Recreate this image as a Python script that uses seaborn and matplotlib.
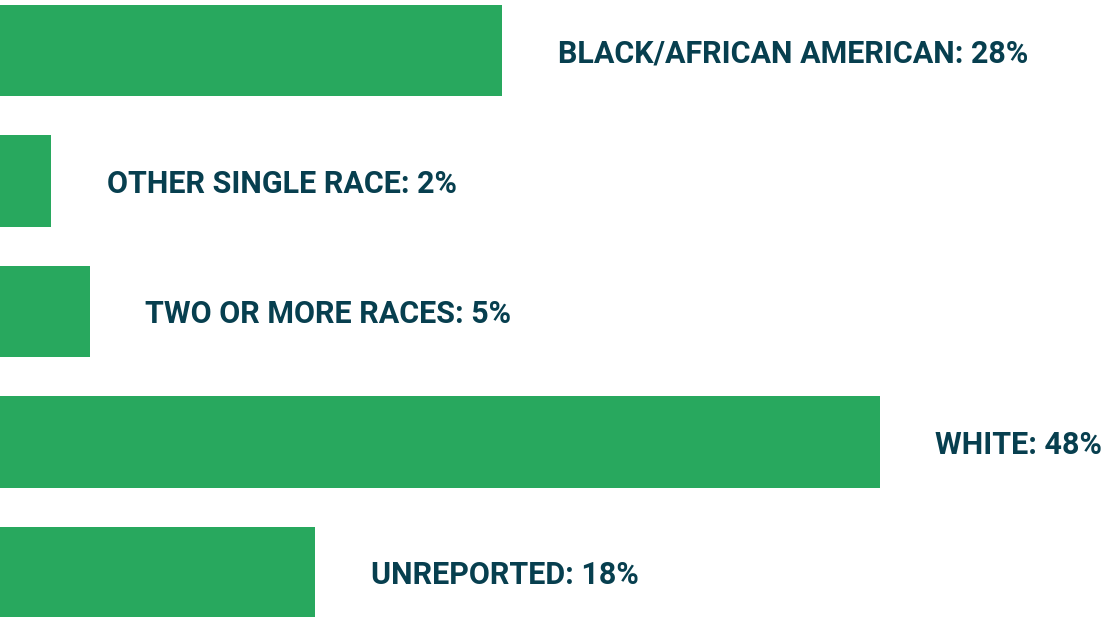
import matplotlib
matplotlib.use("Agg")
import matplotlib.pyplot as plt
import seaborn as sns
import pandas as pd

categories = ["BLACK/AFRICAN AMERICAN", "OTHER SINGLE RACE", "TWO OR MORE RACES", "WHITE", "UNREPORTED"]
values = [27.4, 2.8, 4.9, 48.0, 17.2]
labels = ["28%", "2%", "5%", "48%", "18%"]

sns.set_theme(style="white")
plt.rcParams["font.family"] = ["Roboto", "DejaVu Sans"]

df = pd.DataFrame({"category": categories, "value": values})

fig = plt.figure(figsize=(11.05, 6.17), dpi=100)
ax = fig.add_axes([0, 0, 1, 1])
sns.barplot(data=df, x="value", y="category", orient="h", color="#28A85E",
            saturation=1, width=0.7, linewidth=0, ax=ax)

for i, (cat, v, lab) in enumerate(zip(categories, values, labels)):
    ax.annotate(f"{cat}: {lab}", xy=(v, i), xytext=(40, -2), textcoords="offset points",
                va="center", ha="left", fontsize=22, fontweight="bold", color="#073F4F")

ax.set_xlim(0, 60.3)
ax.set_ylim(4.34, -0.388)
ax.axis("off")
fig.savefig("out.png", dpi=100)
